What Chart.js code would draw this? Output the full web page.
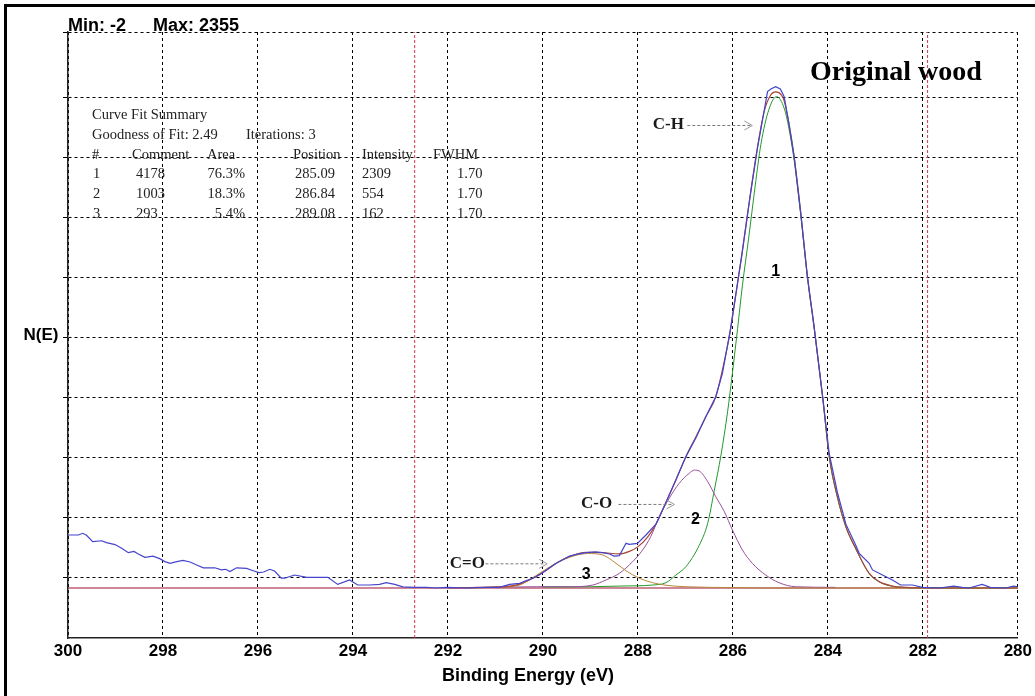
<!DOCTYPE html>
<html lang="en">
<head>
<meta charset="utf-8">
<title>Original wood - C1s curve fit</title>
<script src="https://cdn.jsdelivr.net/npm/chart.js@4.4.0/dist/chart.umd.min.js"></script>
<style>
  html, body { margin: 0; padding: 0; background: #fff; overflow: hidden; }
  #frame {
    position: absolute; left: 4px; top: 4px; width: 1031px; height: 692px;
    border-left: 3px solid #000; border-top: 3px solid #000; box-sizing: border-box;
  }
  #chart { position: absolute; left: 0; top: 0; }
</style>
</head>
<body>
<div id="frame"></div>
<canvas id="chart" width="1035" height="696"></canvas>
<script>
// raw spectrum (blue)
var rawEnergy = [300.00, 299.78, 299.69, 299.61, 299.48, 299.29, 299.19, 299.01, 298.87, 298.73,
  298.61, 298.52, 298.38, 298.21, 298.07, 297.96, 297.85, 297.71, 297.58, 297.43,
  297.29, 297.15, 296.91, 296.77, 296.68, 296.59, 296.45, 296.24, 296.10, 295.98,
  295.88, 295.75, 295.65, 295.51, 295.44, 295.23, 294.97, 294.53, 294.32, 294.07,
  293.90, 293.65, 293.44, 293.30, 293.12, 292.95, 292.70, 292.45, 292.24, 292.03,
  291.62, 291.20, 290.92, 290.70, 290.49, 290.35, 290.21, 290.07, 289.97, 289.72,
  289.44, 289.30, 289.09, 288.90, 288.74, 288.60, 288.50, 288.39, 288.25, 288.18,
  288.01, 287.83, 287.62, 287.45, 287.20, 286.99, 286.78, 286.57, 286.36, 286.22,
  286.06, 285.81, 285.64, 285.48, 285.34, 285.27, 285.20, 285.10, 285.00, 284.92,
  284.82, 284.71, 284.57, 284.43, 284.29, 284.11, 283.97, 283.80, 283.62, 283.41,
  283.34, 283.13, 283.06, 282.85, 282.64, 282.47, 282.22, 282.01, 281.66, 281.35,
  281.17, 281.03, 280.75, 280.58, 280.26, 280.09, 280.00];
var rawCounts = [249, 249, 257, 248, 218, 222, 213, 204, 187, 166,
  172, 160, 144, 150, 138, 124, 116, 124, 130, 122,
  108, 95, 95, 85, 88, 77, 95, 92, 81, 72,
  75, 88, 80, 46, 46, 61, 50, 50, 17, 38,
  14, 14, 17, 25, 17, 5, 3, 3, 0, 3,
  0, 3, 3, 17, 22, 35, 46, 62, 77, 116,
  150, 158, 166, 170, 166, 160, 150, 152, 210, 205,
  210, 249, 300, 382, 508, 617, 705, 805, 899, 1009,
  1205, 1565, 1835, 2070, 2245, 2333, 2345, 2356, 2345, 2309,
  2184, 2027, 1761, 1463, 1228, 899, 630, 450, 300, 200,
  163, 116, 85, 61, 38, 14, 14, 3, 0, 9,
  3, 0, 17, 3, 0, 9, 6];

// fit envelope
var envEnergy = [292.00, 291.50, 291.00, 290.70, 290.49, 290.21, 289.97, 289.72, 289.44, 289.09,
  288.74, 288.39, 288.18, 288.01, 287.80, 287.62, 287.45, 287.20, 286.99, 286.78,
  286.57, 286.36, 286.22, 286.06, 285.95, 285.81, 285.64, 285.48, 285.34, 285.20,
  285.10, 284.98, 284.92, 284.82, 284.71, 284.57, 284.43, 284.29, 284.11, 283.97,
  283.80, 283.62, 283.41, 283.13, 282.92, 282.64, 282.36, 282.00, 280.00];
var envCounts = [0, 2, 5, 9, 18, 46, 77, 116, 148, 168,
  166, 160, 172, 192, 238, 300, 382, 508, 617, 710,
  805, 899, 1025, 1200, 1360, 1570, 1840, 2075, 2240, 2318,
  2332, 2318, 2290, 2184, 2027, 1761, 1463, 1228, 899, 617,
  429, 288, 185, 69, 30, 9, 3, 0, 0];

// peak 1 (C-H)
var p1Energy = [290.00, 289.00, 288.39, 287.69, 287.41, 287.20, 286.99, 286.71, 286.53, 286.39,
  286.25, 286.11, 286.01, 285.90, 285.80, 285.67, 285.53, 285.41, 285.24, 285.08,
  284.92, 284.82, 284.71, 284.57, 284.43, 284.29, 284.11, 283.97, 283.80, 283.62,
  283.41, 283.13, 282.92, 282.64, 282.36, 282.00, 280.00];
var p1Counts = [5, 6, 9, 14, 25, 61, 100, 200, 304, 460,
  625, 830, 1010, 1220, 1420, 1640, 1890, 2085, 2250, 2309,
  2255, 2160, 2010, 1750, 1460, 1225, 897, 615, 427, 287,
  183, 68, 29, 8, 2, 0, 0];

// peak 2 (C-O)
var p2Energy = [291.50, 290.14, 289.44, 288.95, 288.67, 288.39, 288.11, 287.90, 287.73, 287.55,
  287.34, 287.13, 286.92, 286.81, 286.71, 286.53, 286.36, 286.18, 286.01, 285.80,
  285.59, 285.31, 285.03, 284.68, 283.84];
var p2Counts = [2, 6, 6, 14, 38, 69, 124, 179, 241, 335,
  422, 492, 539, 554, 550, 500, 429, 359, 273, 179,
  116, 61, 25, 6, 3];

// peak 3 (C=O)
var p3Energy = [291.50, 291.00, 290.49, 290.35, 290.07, 289.79, 289.44, 289.06, 288.74, 288.46,
  288.25, 287.97, 287.69, 287.41, 286.99, 286.00, 285.00, 280.00];
var p3Counts = [1, 3, 14, 30, 69, 108, 144, 162, 155, 116,
  81, 46, 25, 13, 6, 2, 0, 0];

var baseEnergy = [300, 280];
var baseCounts = [0, 0];
var markerEnergy = [292.7, 281.9];

var xTicks = [300, 298, 296, 294, 292, 290, 288, 286, 284, 282, 280];
var yMin = -235, yMax = 2613;
var yGrid = [47, 329, 611, 893, 1175, 1457, 1739, 2021, 2303, 2613];

// curve fit summary
var peakNo = ['1', '2', '3'];
var peakComment = ['4178', '1003', '293'];
var peakArea = ['76.3%', '18.3%', '5.4%'];
var peakPosition = ['285.09', '286.84', '289.08'];
var peakIntensity = ['2309', '554', '162'];
var peakFwhm = ['1.70', '1.70', '1.70'];

var labelText = ['C-H', 'C-O', 'C=O'];
var labelEnergy = [287.36, 288.87, 291.59];
var labelCounts = [2176, 395, 116];
var arrowFrom = [286.96, 288.41, 291.21];
var arrowTo = [285.59, 287.23, 289.91];
var peakTagEnergy = [285.10, 286.79, 289.09];
var peakTagCounts = [1487, 323, 61];

function pts(xs, ys) {
  return xs.map(function(x, i) { return {x: x, y: ys[i]}; });
}

function curve(data, color, width, smooth) {
  return {
    data: data, borderColor: color, borderWidth: width, pointRadius: 0,
    fill: false, tension: 0, cubicInterpolationMode: smooth ? 'monotone' : 'default'
  };
}

var datasets = [
  curve(pts(rawEnergy, rawCounts), '#4444cc', 1.2, false),
  curve(pts(envEnergy, envCounts), '#a8463a', 1.2, true),
  curve(pts(p3Energy, p3Counts), '#b8883c', 1, true),
  curve(pts(p2Energy, p2Counts), '#9a509a', 1, true),
  curve(pts(p1Energy, p1Counts), '#23982a', 1, true),
  curve(pts(baseEnergy, baseCounts), '#9c1030', 1.2, false)
];
markerEnergy.forEach(function(e) {
  var d = curve([{x: e, y: yMin}, {x: e, y: yMax}], '#d8344e', 1, false);
  d.borderDash = [3, 2];
  datasets.push(d);
});

var serif = '"Liberation Serif", "Times New Roman", serif';
var sans = '"Liberation Sans", Arial, sans-serif';

var textPlugin = {
  id: 'xpsText',
  afterDraw: function(chart) {
    var ctx = chart.ctx, xs = chart.scales.x, ys = chart.scales.y, a = chart.chartArea;
    ctx.save();
    ctx.fillStyle = '#000';
    ctx.textBaseline = 'alphabetic';
    ctx.font = 'bold 18px ' + sans;
    ctx.textAlign = 'left';
    ctx.fillText('Min: -2', a.left, a.top - 1);
    ctx.fillText('Max: 2355', a.left + 85, a.top - 1);

    ctx.font = 'bold 28px ' + serif;
    ctx.fillText('Original wood', a.left + 742, a.top + 48);

    ctx.textBaseline = 'middle';
    ctx.textAlign = 'center';
    ctx.font = 'bold 17px ' + sans;
    ctx.fillText('N(E)', a.left - 27, (a.top + a.bottom) / 2);
    ctx.font = 'bold 18px ' + sans;
    ctx.fillText('Binding Energy (eV)', 528, a.bottom + 38);

    // summary table
    ctx.fillStyle = '#222';
    ctx.textAlign = 'left';
    ctx.font = '14.5px ' + serif;
    var tx = a.left, ty = a.top + 83.5, rowH = 19.7;
    ctx.fillText('Curve Fit Summary', tx + 24, ty);
    ctx.fillText('Goodness of Fit: 2.49', tx + 24, ty + rowH);
    ctx.fillText('Iterations: 3', tx + 178, ty + rowH);
    var head = ['#', 'Comment', 'Area', 'Position', 'Intensity', 'FWHM'];
    var headX = [24, 64, 139, 225, 294, 365];
    head.forEach(function(h, i) { ctx.fillText(h, tx + headX[i], ty + 2 * rowH); });
    for (var r = 0; r < peakNo.length; r++) {
      var yy = ty + (3 + r) * rowH;
      ctx.textAlign = 'left';
      ctx.fillText(peakNo[r], tx + 25, yy);
      ctx.fillText(peakComment[r], tx + 68, yy);
      ctx.fillText(peakPosition[r], tx + 227, yy);
      ctx.fillText(peakIntensity[r], tx + 294, yy);
      ctx.fillText(peakFwhm[r], tx + 389, yy);
      ctx.textAlign = 'right';
      ctx.fillText(peakArea[r], tx + 177, yy);
    }

    // bond labels with dashed arrows
    for (var i = 0; i < labelText.length; i++) {
      var ly = ys.getPixelForValue(labelCounts[i]);
      ctx.fillStyle = '#1a1a1a';
      ctx.textAlign = 'center';
      ctx.font = 'bold 17px ' + serif;
      ctx.fillText(labelText[i], xs.getPixelForValue(labelEnergy[i]), ly);
      var x0 = xs.getPixelForValue(arrowFrom[i]), x1 = xs.getPixelForValue(arrowTo[i]);
      ctx.strokeStyle = '#7a7a7a';
      ctx.lineWidth = 1;
      ctx.setLineDash([3, 2]);
      ctx.beginPath();
      ctx.moveTo(x0, ly + 0.5);
      ctx.lineTo(x1 - 2, ly + 0.5);
      ctx.stroke();
      ctx.setLineDash([]);
      ctx.strokeStyle = '#999';
      ctx.beginPath();
      ctx.moveTo(x1 - 8, ly - 4);
      ctx.lineTo(x1, ly + 0.5);
      ctx.lineTo(x1 - 8, ly + 5);
      ctx.stroke();
    }

    // peak numbers
    ctx.fillStyle = '#000';
    ctx.font = 'bold 16px ' + sans;
    ctx.textAlign = 'center';
    for (var k = 0; k < peakTagEnergy.length; k++) {
      ctx.fillText(String(k + 1), xs.getPixelForValue(peakTagEnergy[k]), ys.getPixelForValue(peakTagCounts[k]));
    }
    ctx.restore();
  }
};

new Chart(document.getElementById('chart').getContext('2d'), {
  type: 'line',
  data: {datasets: datasets},
  plugins: [textPlugin],
  options: {
    responsive: false,
    animation: false,
    devicePixelRatio: 1,
    layout: {padding: {left: 63, top: 32, right: 16, bottom: 28}},
    plugins: {legend: {display: false}, tooltip: {enabled: false}, title: {display: false}},
    scales: {
      x: {
        type: 'linear', reverse: true, min: 280, max: 300,
        afterFit: function(s) { s.height = 30; },
        afterBuildTicks: function(s) { s.ticks = xTicks.map(function(v) { return {value: v}; }); },
        ticks: {
          maxRotation: 0, autoSkip: false, padding: 3, color: '#000',
          font: {family: sans, size: 17, weight: 'bold'}
        },
        grid: {color: '#000', lineWidth: 1, drawTicks: false},
        border: {display: true, color: '#222', width: 1.5, dash: [3, 3]}
      },
      y: {
        type: 'linear', min: yMin, max: yMax,
        afterFit: function(s) { s.width = 5; },
        afterBuildTicks: function(s) { s.ticks = yGrid.map(function(v) { return {value: v}; }); },
        ticks: {display: false},
        grid: {color: '#000', lineWidth: 1, drawTicks: true, tickLength: 5},
        border: {display: true, color: '#222', width: 1.5, dash: [3, 3]}
      }
    }
  }
});
</script>
</body>
</html>
